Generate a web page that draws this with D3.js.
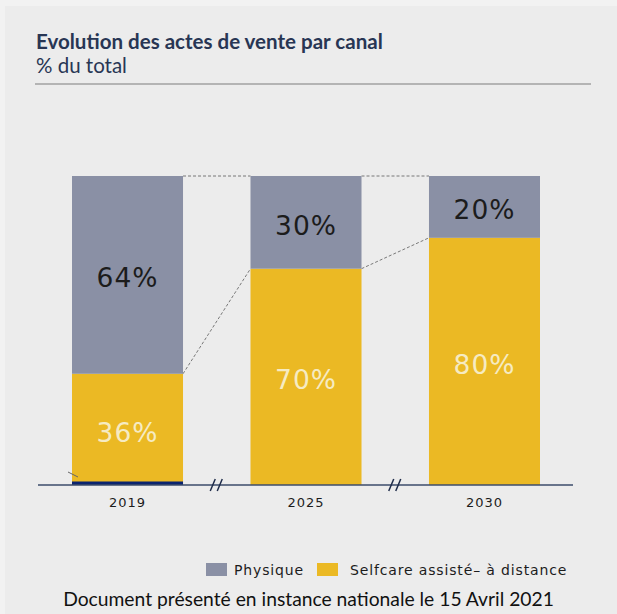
<!DOCTYPE html>
<html>
<head>
<meta charset="utf-8">
<script src="https://cdn.jsdelivr.net/npm/d3@7.9.0/dist/d3.min.js"></script>
<style>
  html, body { margin: 0; padding: 0; background: #ececec; }
  svg { display: block; }
</style>
</head>
<body>
<div id="chart"></div>
<script>
const years = ['2019', '2025', '2030'];
const physique = [64, 30, 20];
const selfcare = [36, 70, 80];
const legendLabels = ['Physique', 'Selfcare assisté– à distance'];

const width = 617;
const height = 614;

const colors = { physique: '#8a90a5', selfcare: '#ebb924' };

const svg = d3.select('#chart')
  .append('svg')
  .attr('width', width)
  .attr('height', height);

svg.append('rect')
  .attr('width', width).attr('height', height)
  .attr('fill', '#f2f2f2');
svg.append('rect')
  .attr('x', 5).attr('y', 6)
  .attr('width', width - 5).attr('height', height - 6)
  .attr('fill', '#ececec');

// shrink/grow a text so it spans the given width
function fitText(sel, target) {
  const w = sel.node().getComputedTextLength();
  const fs = +sel.attr('font-size');
  sel.attr('font-size', fs * target / w);
}

// header
const title = svg.append('text')
  .attr('x', 36).attr('y', 49)
  .attr('font-family', 'Lato, sans-serif')
  .attr('font-weight', 700)
  .attr('font-size', 16)
  .attr('fill', '#283654')
  .text('Evolution des actes de vente par canal');
fitText(title, 347);

const subtitle = svg.append('text')
  .attr('x', 36).attr('y', 73)
  .attr('font-family', 'Lato, sans-serif')
  .attr('font-size', 16)
  .attr('fill', '#283654')
  .text('% du total');
fitText(subtitle, 91);

svg.append('line')
  .attr('x1', 35).attr('x2', 591)
  .attr('y1', 84).attr('y2', 84)
  .attr('stroke', '#b4b4b4')
  .attr('stroke-width', 2);

// scales
const x = d3.scaleBand()
  .domain(years)
  .range([72, 540])
  .paddingInner(0.378)
  .paddingOuter(0);

const y = d3.scaleLinear()
  .domain([0, 100])
  .range([485, 176]);

const rows = years.map((yr, i) => ({ year: yr, physique: physique[i], selfcare: selfcare[i] }));
const series = d3.stack().keys(['selfcare', 'physique'])(rows);

// connector dashed lines
const conn = svg.append('g')
  .attr('stroke', '#5a5a5a')
  .attr('stroke-width', 0.8)
  .attr('stroke-dasharray', '3,2')
  .attr('fill', 'none');

for (let i = 0; i < rows.length - 1; i++) {
  const a = rows[i], b = rows[i + 1];
  conn.append('line')
    .attr('x1', x(a.year) + x.bandwidth()).attr('y1', y(100))
    .attr('x2', x(b.year)).attr('y2', y(100));
  conn.append('line')
    .attr('x1', x(a.year) + x.bandwidth()).attr('y1', y(a.selfcare))
    .attr('x2', x(b.year)).attr('y2', y(b.selfcare));
}

// bars
svg.append('g')
  .selectAll('g')
  .data(series)
  .join('g')
  .attr('fill', d => colors[d.key])
  .selectAll('rect')
  .data(d => d)
  .join('rect')
  .attr('x', d => x(d.data.year))
  .attr('y', d => y(d[1]))
  .attr('width', x.bandwidth())
  .attr('height', d => y(d[0]) - y(d[1]));

// value labels
svg.append('g')
  .selectAll('g')
  .data(series)
  .join('g')
  .attr('fill', d => d.key === 'physique' ? '#1c1c1c' : '#f6ebc2')
  .selectAll('text')
  .data(d => d)
  .join('text')
  .attr('x', d => x(d.data.year) + x.bandwidth() / 2)
  .attr('y', d => (y(d[0]) + y(d[1])) / 2 + 3)
  .attr('text-anchor', 'middle')
  .attr('dominant-baseline', 'central')
  .attr('font-family', 'DejaVu Sans, sans-serif')
  .attr('font-size', 26.5)
  .attr('letter-spacing', 1)
  .text(d => (d[1] - d[0]) + '%');

// navy stripe at base of 2019 bar + small tick
svg.append('rect')
  .attr('x', x('2019')).attr('y', y(0) - 3.5)
  .attr('width', x.bandwidth()).attr('height', 3.5)
  .attr('fill', '#0b2470');
svg.append('line')
  .attr('x1', 68).attr('y1', 472).attr('x2', 78).attr('y2', 477)
  .attr('stroke', '#666').attr('stroke-width', 1);

// axis
svg.append('line')
  .attr('x1', 38).attr('x2', 573)
  .attr('y1', y(0)).attr('y2', y(0))
  .attr('stroke', '#3d4d6b')
  .attr('stroke-width', 1.5);

const xAxis = svg.append('g')
  .attr('transform', `translate(0, ${y(0)})`)
  .call(d3.axisBottom(x).tickSize(0).tickPadding(13));
xAxis.select('.domain').remove();
xAxis.selectAll('text')
  .attr('font-family', 'DejaVu Sans, sans-serif')
  .attr('font-size', 13)
  .attr('letter-spacing', 1)
  .attr('fill', '#1c1c1c');

// break marks
for (let i = 0; i < years.length - 1; i++) {
  const mx = (x(years[i]) + x.bandwidth() + x(years[i + 1])) / 2;
  const yy = y(0);
  [-4, 3].forEach(dx => {
    svg.append('line')
      .attr('x1', mx + dx - 2.5).attr('y1', yy + 6)
      .attr('x2', mx + dx + 2.5).attr('y2', yy - 6)
      .attr('stroke', '#1f2c4a').attr('stroke-width', 1.5);
  });
}

// legend
const legend = svg.append('g').attr('transform', 'translate(206, 563)');
const legendX = [0, 111];
legendLabels.forEach((lab, i) => {
  const g = legend.append('g').attr('transform', `translate(${legendX[i]}, 0)`);
  g.append('rect')
    .attr('width', 21).attr('height', 13)
    .attr('fill', i === 0 ? colors.physique : colors.selfcare);
  g.append('text')
    .attr('x', i === 0 ? 28 : 33).attr('y', 12)
    .attr('font-family', 'DejaVu Sans, sans-serif')
    .attr('font-size', 14)
    .attr('letter-spacing', 0.85)
    .attr('fill', '#1c1c1c')
    .text(lab);
});

// footer
const footer = svg.append('text')
  .attr('x', width / 2).attr('y', 606)
  .attr('text-anchor', 'middle')
  .attr('font-family', 'Lato, sans-serif')
  .attr('font-size', 16)
  .attr('fill', '#111')
  .text('Document présenté en instance nationale le 15 Avril 2021');
fitText(footer, 491);
</script>
</body>
</html>
